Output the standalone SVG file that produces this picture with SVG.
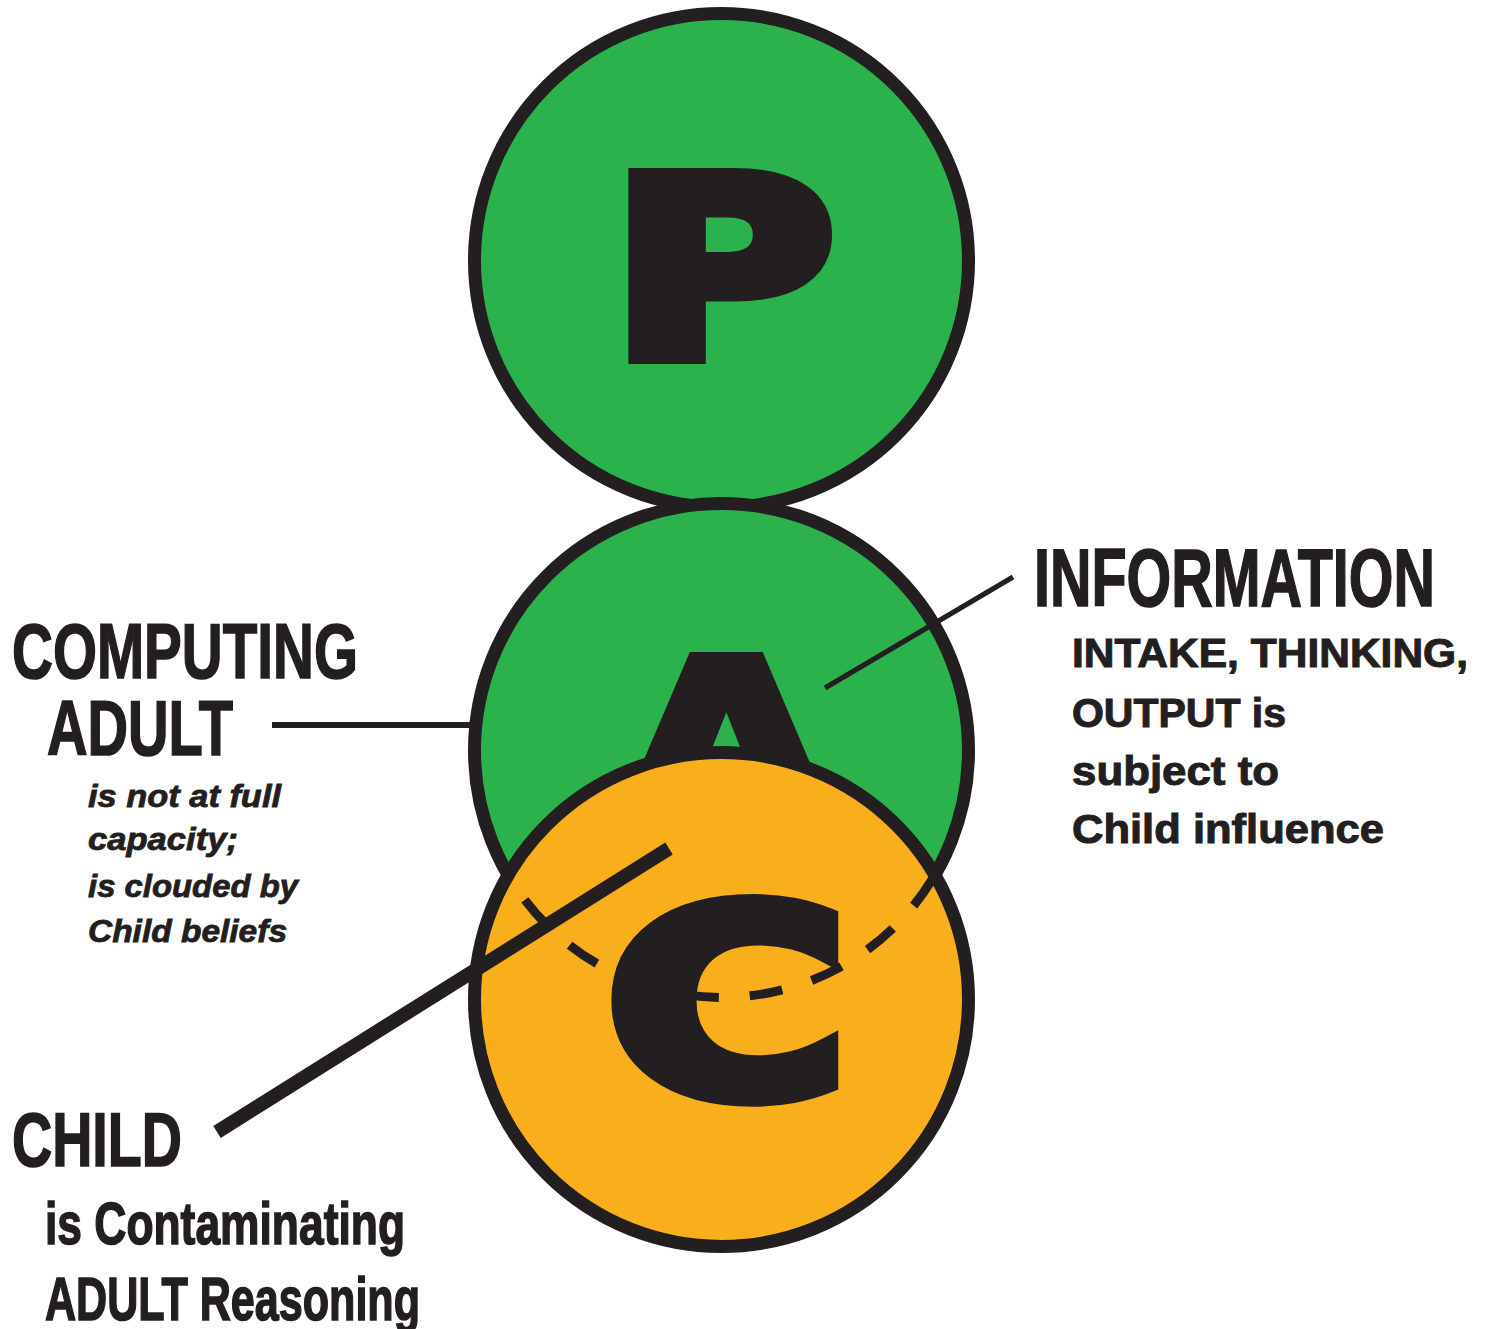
<svg xmlns="http://www.w3.org/2000/svg" width="1485" height="1329" viewBox="0 0 1485 1329">
<style>
.ring{stroke:#231f20;stroke-width:13}
.green{fill:#2bb24c}
.orange{fill:#f9ae1b}
.big{font-family:"DejaVu Sans",sans-serif;font-weight:700;fill:#231f20;stroke:#231f20;stroke-linejoin:miter;text-anchor:middle}
.head{font-family:"Liberation Sans",Arial,sans-serif;font-weight:700;fill:#231f20;stroke:#231f20;stroke-width:1.6}
.ital{font-family:"Liberation Sans",Arial,sans-serif;font-weight:700;font-style:italic;fill:#231f20;font-size:31px;stroke:#231f20;stroke-width:0.8}
.sub{font-family:"Liberation Sans",Arial,sans-serif;font-weight:700;fill:#231f20;font-size:40px;stroke:#231f20;stroke-width:1}
.conn{stroke:#231f20;fill:none;stroke-linecap:butt}
</style>
<rect width="1485" height="1329" fill="#ffffff"/>
<g id="parent">
<circle class="ring green" cx="721.5" cy="260.5" r="247"/>
<text class="big" transform="translate(730.5,0) scale(1.24,1)" x="-6.5" y="356" font-size="247" stroke-width="16">P</text>
</g>
<g id="adult">
<circle class="ring green" cx="721.5" cy="750.5" r="247"/>
<text class="big" transform="translate(728,0) scale(1.15,1)" x="-1.5" y="844" font-size="258" stroke-width="8">A</text>
</g>
<g id="child">
<circle class="ring orange" cx="721.5" cy="999.5" r="247"/>
<path class="conn" d="M 508.2 875 A 247 247 0 0 0 934.8 875" stroke-width="9" stroke-dasharray="33 30.9" stroke-dashoffset="33.9"/>
<text class="big" transform="translate(726.5,0) scale(1.28,1)" x="0.5" y="1095" font-size="260" stroke-width="16">C</text>
</g>
<g id="connectors">
<line class="conn" x1="272" y1="725" x2="474" y2="725" stroke-width="6"/>
<line class="conn" x1="825" y1="688" x2="1013" y2="577" stroke-width="5"/>
<line class="conn" x1="217" y1="1132" x2="669" y2="848.5" stroke-width="14"/>
</g>
<g id="label-adult">
<text class="head" x="12" y="678" font-size="78" textLength="346" lengthAdjust="spacingAndGlyphs">COMPUTING</text>
<text class="head" x="47" y="755" font-size="78" textLength="186" lengthAdjust="spacingAndGlyphs">ADULT</text>
<text class="ital" x="88" y="807" textLength="193" lengthAdjust="spacingAndGlyphs">is not at full</text>
<text class="ital" x="88" y="850" textLength="150" lengthAdjust="spacingAndGlyphs">capacity;</text>
<text class="ital" x="88" y="897" textLength="210" lengthAdjust="spacingAndGlyphs">is clouded by</text>
<text class="ital" x="88" y="942" textLength="199" lengthAdjust="spacingAndGlyphs">Child beliefs</text>
</g>
<g id="label-information">
<text class="head" x="1034" y="606" font-size="81" textLength="401" lengthAdjust="spacingAndGlyphs">INFORMATION</text>
<text class="sub" x="1072" y="667" textLength="396" lengthAdjust="spacingAndGlyphs">INTAKE, THINKING,</text>
<text class="sub" x="1072" y="727" textLength="214" lengthAdjust="spacingAndGlyphs">OUTPUT is</text>
<text class="sub" x="1072" y="785" textLength="207" lengthAdjust="spacingAndGlyphs">subject to</text>
<text class="sub" x="1072" y="843" textLength="312" lengthAdjust="spacingAndGlyphs">Child influence</text>
</g>
<g id="label-child">
<text class="head" x="12" y="1166" font-size="76" textLength="170" lengthAdjust="spacingAndGlyphs">CHILD</text>
<text class="head" x="45" y="1244" font-size="60" textLength="360" lengthAdjust="spacingAndGlyphs">is Contaminating</text>
<text class="head" x="45" y="1320" font-size="62" textLength="375" lengthAdjust="spacingAndGlyphs">ADULT Reasoning</text>
</g>
</svg>
